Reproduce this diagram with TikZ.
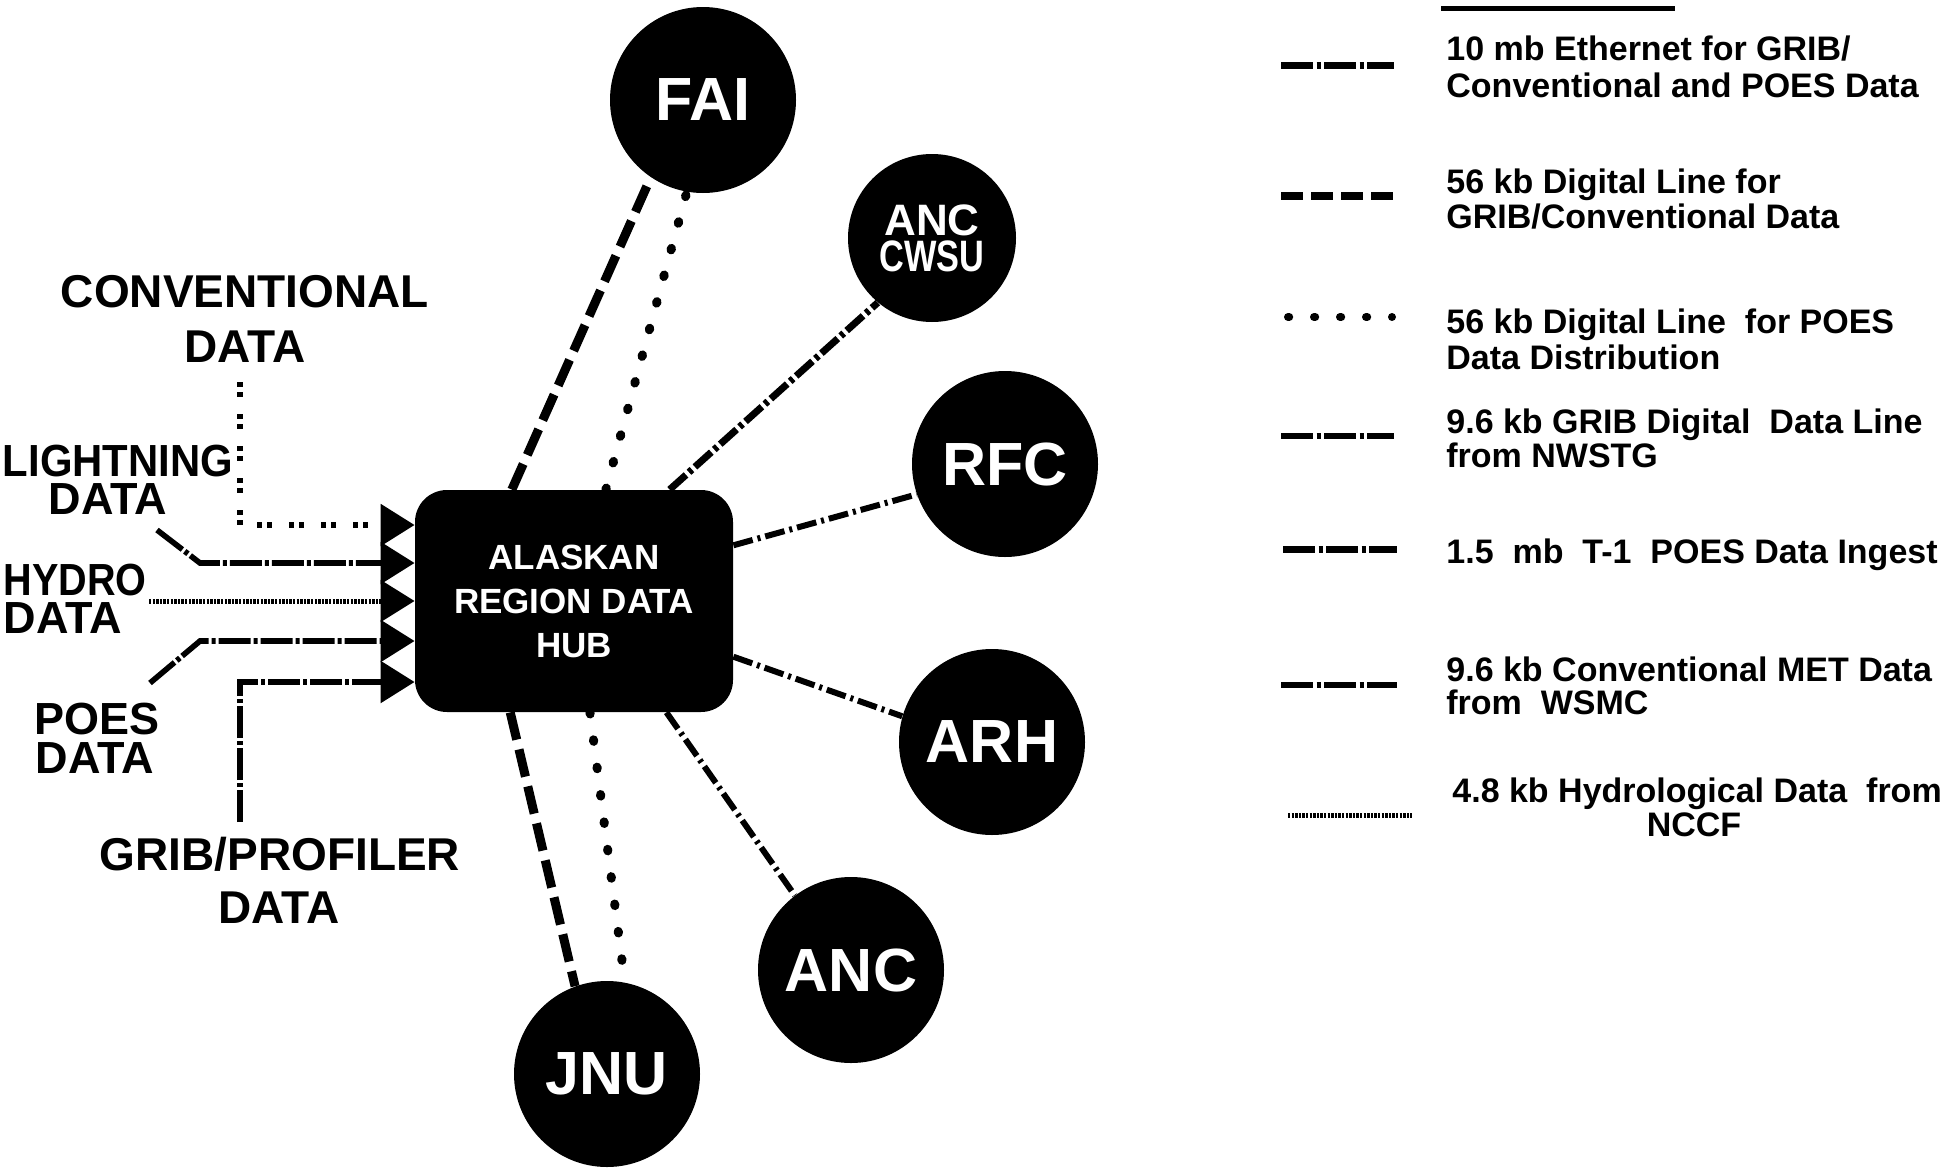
\documentclass[tikz,border=0pt]{standalone}
\usepackage{fontspec}
\setmainfont{Liberation Sans}
\usetikzlibrary{arrows.meta,calc}
\begin{document}
\begin{tikzpicture}[x=0.5pt,y=-0.5pt,
  lbl/.style={font=\fontsize{22.5}{27}\selectfont\bfseries, inner sep=0pt, anchor=base},
  biglbl/.style={font=\fontsize{23}{27}\selectfont\bfseries, inner sep=0pt, anchor=base},
  legtext/.style={font=\fontsize{17}{20}\selectfont\bfseries, inner sep=0pt, anchor=base west},
  legcenter/.style={font=\fontsize{17}{20}\selectfont\bfseries, inner sep=0pt, anchor=base},
  site/.style={circle, fill=black, text=white, inner sep=0pt, minimum size=93pt, font=\fontsize{30.5}{34}\selectfont\bfseries},
  hubbox/.style={rectangle, rounded corners=16pt, fill=black, text=white, minimum width=159pt, minimum height=111pt, align=center, font=\fontsize{17.5}{22}\selectfont\bfseries},
  intip/.style={-{Triangle[length=17pt,width=20.5pt]}},
  dashln/.style={line width=4.5pt, dash pattern=on 14pt off 5pt},
  dotln/.style={line width=4.5pt, line cap=round, dash pattern=on 0.8pt off 13pt},
  ddthick/.style={line width=3.5pt, dash pattern=on 11pt off 2pt on 2pt off 2pt},
  ddthin/.style={line width=3pt, dash pattern=on 10pt off 2.5pt on 1.5pt off 2.5pt},
  inconv/.style={line width=2.8pt, dash pattern=on 2.5pt off 2.5pt on 2.5pt off 8.5pt},
  indd/.style={line width=2.8pt, dash pattern=on 16pt off 1.5pt on 2pt off 1.5pt},
  inhydro/.style={line width=2.5pt, dash pattern=on 1.2pt off 0.6pt},
  legdd/.style={line width=#1, dash pattern=on 16pt off 1.75pt on 2pt off 1.75pt},
  legdash/.style={line width=4pt, dash pattern=on 11pt off 4pt},
  legdot/.style={line width=4pt, line cap=round, dash pattern=on 0.6pt off 12.4pt},
]
\fill[white] (0,0) rectangle (1960,1173);
\useasboundingbox (0,0) rectangle (1960,1173);

% hub and sites
\node[hubbox] (hub) at (574,601) {ALASKAN\\REGION DATA\\HUB};
\node[site] (fai) at (703,100) {FAI};
\node[site, minimum size=84pt, align=center, font=\fontsize{22}{18}\selectfont\bfseries] (cwsu) at (932,238) {ANC\\\scalebox{0.78}[1]{CWSU}};
\node[site] (rfc) at (1005,464) {RFC};
\node[site] (arh) at (992,742) {ARH};
\node[site] (anc) at (851,970) {ANC};
\node[site] (jnu) at (607,1074) {JNU};

% connectors hub -> sites
\draw[dashln] ($(hub.north west)!0.305!(hub.north east)$) -- (fai.236);
\draw[dotln]  ($(hub.north west)!0.60!(hub.north east)$) -- (fai.260);
\draw[ddthick] ($(hub.north west)!0.80!(hub.north east)$) -- (cwsu.230);
\draw[ddthin] ($(hub.north east)!0.25!(hub.south east)$) -- (rfc.199);
\draw[ddthin] ($(hub.north east)!0.75!(hub.south east)$) -- (arh.164);
\draw[ddthin] ($(hub.south west)!0.79!(hub.south east)$) -- (anc.127);
\draw[dashln] ($(hub.south west)!0.30!(hub.south east)$) -- (jnu.110);
\draw[dotln]  ($(hub.south west)!0.55!(hub.south east)$) -- (jnu.79);

% input labels
\node[biglbl] (conv1) at (245,307) {CONVENTIONAL};
\node[biglbl] (conv2) at (245,362) {DATA};
\node[lbl] (light1) at (118,476) {\scalebox{0.93}[1]{LIGHTNING}};
\node[lbl] (light2) at (108,514) {DATA};
\node[lbl] (hydro1) at (75,595) {\scalebox{0.88}[1]{HYDRO}};
\node[lbl] (hydro2) at (63,633) {DATA};
\node[lbl] (poes1) at (97,734) {POES};
\node[lbl] (poes2) at (95,773) {DATA};
\node[biglbl] (grib1) at (280,870) {GRIB/PROFILER};
\node[biglbl] (grib2) at (279,923) {DATA};

% input lines
\coordinate (cvA) at (240,382);
\coordinate (cvB) at (240,525);
\draw[inconv, intip] (cvA) -- (cvB) -- (cvB -| hub.west);
\coordinate (lgA) at (157,530);
\coordinate (lgB) at (200,563);
\draw[indd, intip] (lgA) -- (lgB) -- (lgB -| hub.west);
\coordinate (hyA) at (149,601);
\draw[inhydro, intip] (hyA) -- (hyA -| hub.west);
\coordinate (poA) at (150,683);
\coordinate (poB) at (200,641);
\draw[indd, intip] (poA) -- (poB) -- (poB -| hub.west);
\coordinate (grA) at (240,822);
\coordinate (grB) at (240,682);
\draw[indd, intip] (grA) -- (grB) -- (grB -| hub.west);

% legend
\draw[line width=2.5pt] (1441,8) -- (1675,8);
\draw[legdd=3.5pt] (1281,65) -- (1394,65);
\draw[legdash] (1281,196) -- (1394,196);
\draw[legdot] (1288,317) -- (1392,317);
\draw[legdd=3pt] (1281,436) -- (1394,436);
\draw[legdd=3.5pt] (1283,549) -- (1397,549);
\draw[legdd=3pt] (1281,685) -- (1397,685);
\draw[inhydro] (1288,815) -- (1412,815);

\node[legtext] (l1a) at (1446,60) {10 mb Ethernet for GRIB/};
\node[legtext] (l1b) at (1446,97) {Conventional and POES Data};
\node[legtext] (l2a) at (1446,193) {56 kb Digital Line for};
\node[legtext] (l2b) at (1446,228) {GRIB/Conventional Data};
\node[legtext] (l3a) at (1446,333) {56 kb Digital Line~~for POES};
\node[legtext] (l3b) at (1446,369) {Data Distribution};
\node[legtext] (l4a) at (1446,433) {9.6 kb GRIB Digital~~Data Line};
\node[legtext] (l4b) at (1446,467) {from NWSTG};
\node[legtext] (l5a) at (1446,563) {1.5~~mb~~T-1~~POES Data Ingest};
\node[legtext] (l6a) at (1446,681) {9.6 kb Conventional MET Data};
\node[legtext] (l6b) at (1446,714) {from~~WSMC};
\node[legtext] (l7a) at (1452,802) {4.8 kb Hydrological Data~~from};
\node[legcenter] (l7b) at (1694,836) {NCCF};
\end{tikzpicture}
\end{document}
